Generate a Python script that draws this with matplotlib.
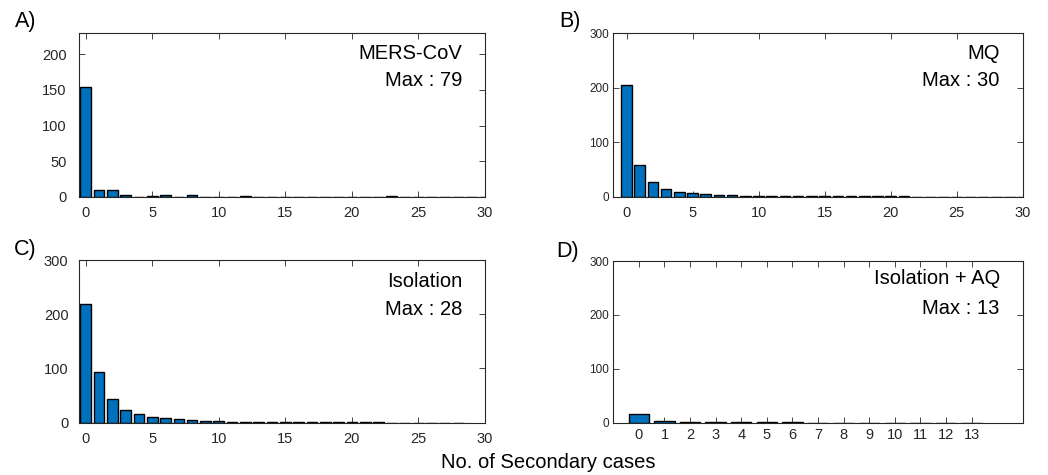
import numpy as np
import matplotlib
matplotlib.use("Agg")
import matplotlib.pyplot as plt

plt.rcParams['font.family'] = ['Liberation Sans', 'DejaVu Sans']

# secondary case distributions (counts per number of secondary cases)
mers_counts = [154, 10, 9, 3, 0, 1, 3, 0, 2, 0, 0, 0, 1, 0, 0, 0, 0, 0, 0, 0,
               0, 0, 0, 1, 0, 0, 0, 0, 0, 0, 0]
mq_counts = [204, 59, 27, 14.5, 9, 7, 5, 3.5, 2.5, 2, 1.5, 1.2, 1.0, 0.9, 0.8,
             0.7, 0.6, 0.55, 0.5, 0.45, 0.4, 0.38, 0.35, 0.32, 0.3, 0.28,
             0.26, 0.24, 0.22, 0.2, 0.2]
iso_counts = [218, 94, 43, 24, 16, 11, 8, 6, 5, 4, 3.5, 2, 1.6, 1.2, 1.0, 0.9,
              0.8, 0.7, 0.6, 0.55, 0.5, 0.45, 0.4, 0.35, 0.3, 0.3, 0.25, 0.2,
              0.2]
isoaq_counts = [16, 3.5, 1.5, 0.8, 0.6, 0.5, 0.4, 0.35, 0.3, 0.3, 0.25, 0.2,
                0.2, 0.15]

names = ['MERS-CoV', 'MQ', 'Isolation', 'Isolation + AQ']
max_vals = [79, 30, 28, 13]
panel_tags = ['A)', 'B)', 'C)', 'D)']

W, H = 1048, 475
fig = plt.figure(figsize=(W / 100, H / 100), dpi=100)

# axes boxes in pixels: left, top, right, bottom
boxes = [(79, 33, 485, 196.7), (613.3, 33, 1022.7, 196.7),
         (79, 260, 485, 422.7), (613.3, 261, 1022.7, 422.7)]

data = [mers_counts, mq_counts, iso_counts, isoaq_counts]
xlims = [(-0.5, 30), (-1, 30), (-0.5, 30), (-1, 15)]
ylims = [(0, 230), (0, 300), (0, 300), (0, 300)]
yticks = [[0, 50, 100, 150, 200], [0, 100, 200, 300], [0, 100, 200, 300],
          [0, 100, 200, 300]]
xticks = [range(0, 31, 5), range(0, 31, 5), range(0, 31, 5), range(0, 14)]
ytick_fs = [10.5, 8.5, 10.5, 8.5]
ytick_pad = [9, 3, 7.5, 3]
xtick_pad = [6.5, 6.5, 6.5, 4]
name_y = [(0.872, 0.707), (0.872, 0.707), (0.867, 0.693), (0.89, 0.709)]
tag_pos = [(26, 22), (570, 21), (25, 249), (568, 251)]

dark = '#262626'
for i in range(4):
    l, t, r, b = boxes[i]
    ax = fig.add_axes([l / W, 1 - b / H, (r - l) / W, (b - t) / H])
    vals = data[i]
    ax.bar(np.arange(len(vals)), vals, width=0.8, color='#0072BD',
           edgecolor='black', linewidth=1.0, zorder=2)
    ax.set_xlim(*xlims[i])
    ax.set_ylim(*ylims[i])
    ax.set_xticks(list(xticks[i]))
    ax.set_yticks(yticks[i])
    ax.tick_params(axis='x', direction='in', length=4, width=0.6,
                   top=True, labelsize=10.5, colors=dark, pad=xtick_pad[i])
    ax.tick_params(axis='y', direction='in', length=4, width=0.6,
                   right=True, labelsize=ytick_fs[i], colors=dark,
                   pad=ytick_pad[i])
    for sp in ax.spines.values():
        sp.set_color(dark)
        sp.set_linewidth(0.8)
    ax.text(0.944, name_y[i][0], names[i], transform=ax.transAxes,
            ha='right', va='center', fontsize=14.5, color='black')
    ax.text(0.944, name_y[i][1], 'Max : %d' % max_vals[i],
            transform=ax.transAxes, ha='right', va='center', fontsize=14.5,
            color='black')
    fig.text(tag_pos[i][0] / W, 1 - tag_pos[i][1] / H, panel_tags[i],
             ha='center', va='center', fontsize=15.5)

fig.text(548 / W, 1 - 463 / H, 'No. of Secondary cases', ha='center',
         va='center', fontsize=14.5)

fig.savefig('out.png', dpi=100)
